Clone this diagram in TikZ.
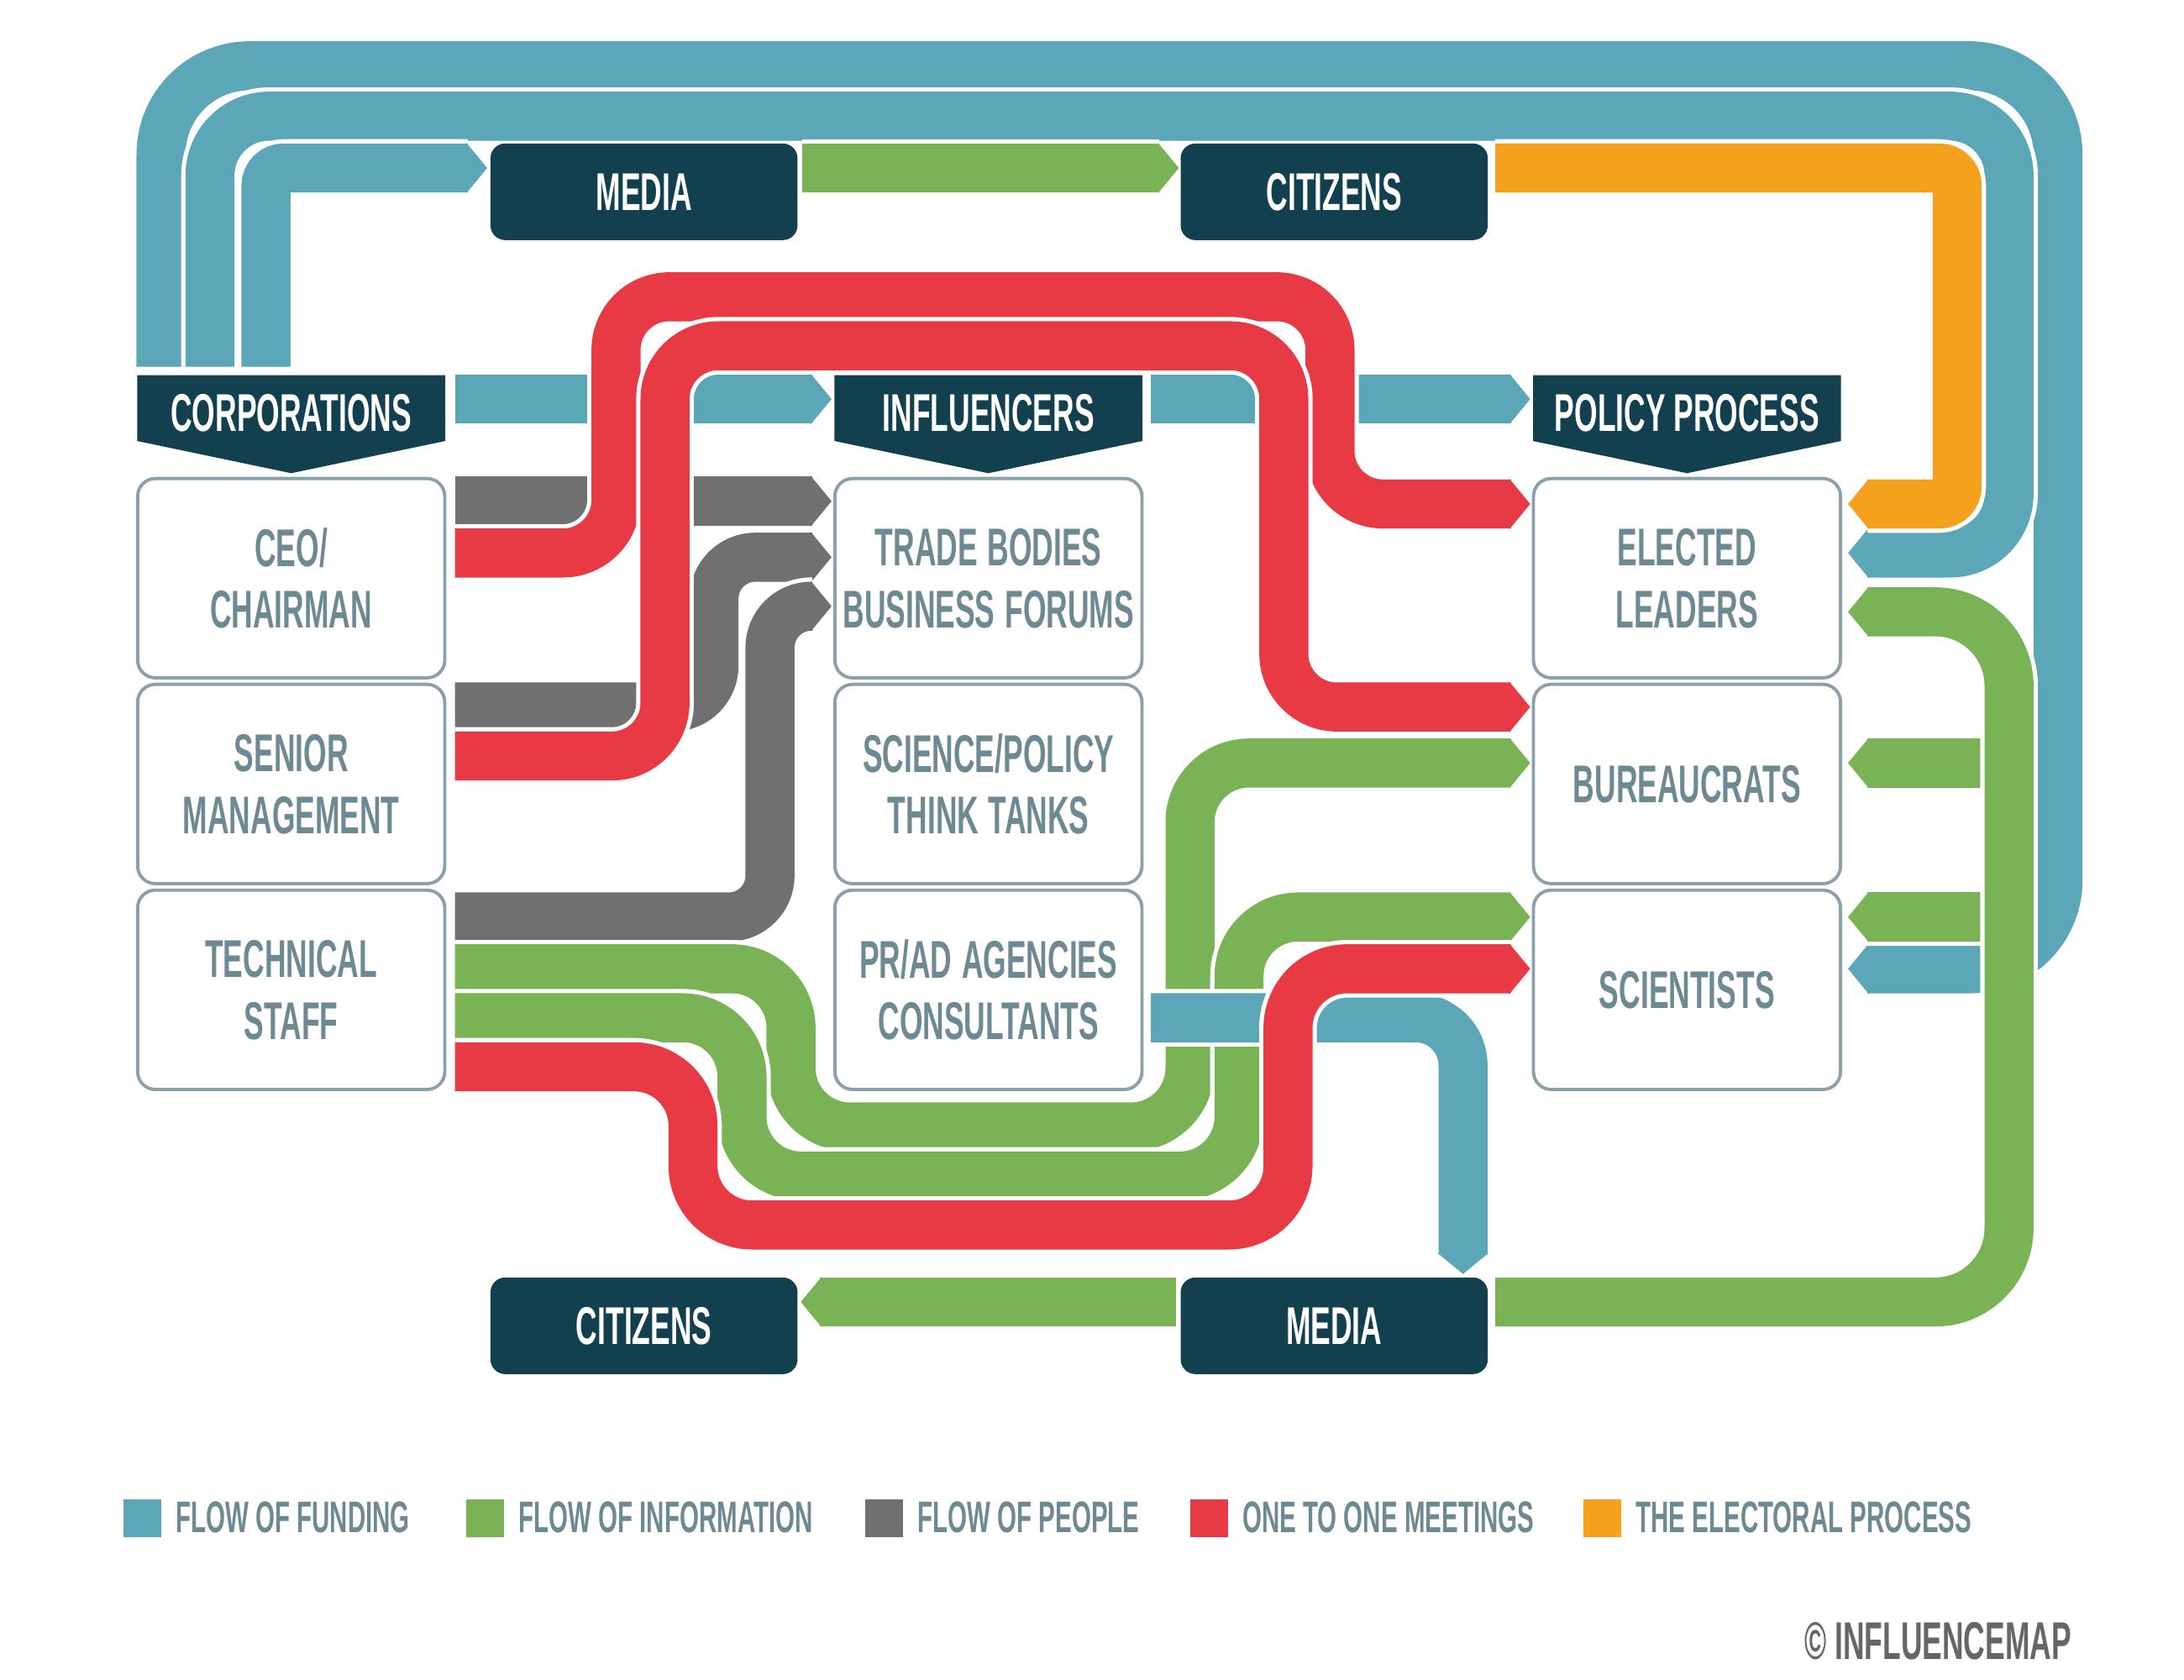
\documentclass[tikz,border=0pt]{standalone}
\usepackage{fontspec}
\setmainfont{Liberation Sans}
\usetikzlibrary{arrows.meta}
\definecolor{navy}{HTML}{12404F}
\definecolor{txt}{HTML}{6D8A93}
\definecolor{fund}{HTML}{5BA7B7}
\definecolor{info}{HTML}{7AB356}
\definecolor{people}{HTML}{707070}
\definecolor{meet}{HTML}{E83A45}
\definecolor{vote}{HTML}{F4A21E}
\newcommand{\nar}[1]{\scalebox{0.56}[1]{#1}}
\tikzset{
  band/.style={line width=16.6pt, preaction={draw=white, line width=19.5pt}},
  tip/.style={-{Triangle[width=16.6pt, length=7pt]}},
  box/.style={draw=txt!80, line width=1.1pt, rounded corners=6pt, fill=white,
    minimum width=104pt, minimum height=67.5pt, text width=100pt, inner sep=0pt,
    align=center, text=txt, font=\bfseries\fontsize{18}{21}\selectfont},
  darkbox/.style={fill=navy, rounded corners=5pt, minimum width=104pt,
    minimum height=32.7pt, text=white, font=\bfseries\fontsize{18}{21}\selectfont},
  legend/.style={anchor=west, inner sep=0pt, text=txt, font=\bfseries\fontsize{15}{18}\selectfont}
}
\begin{document}
\begin{tikzpicture}[x=0.016667cm, y=-0.016667cm]
\useasboundingbox[fill=white] (0,0) rectangle (1560,1200);

% gray: flow of people
\draw[band, people, tip] (325,358) -- (594,358);
\draw[band, people, tip, rounded corners=14pt] (325,505) -- (510,505) -- (510,398) -- (594,398);
\draw[band, people, tip, rounded corners=14pt] (325,655) -- (550,655) -- (550,433) -- (594,433);

% blue: flow of funding
\draw[band, fund, tip, rounded corners=30pt] (115,262) -- (115,47) -- (1470,47) -- (1470,692) -- (1320,692);
\draw[band, fund, tip, rounded corners=20pt] (150,262) -- (150,83) -- (1435,83) -- (1435,395) -- (1320,395);
\draw[band, fund, tip, rounded corners=6pt] (190,262) -- (190,120) -- (348,120);
\draw[band, fund, tip] (325,285) -- (594,285);
\draw[band, fund, tip] (822,285) -- (1093,285);

% orange: electoral process
\draw[band, vote, tip, rounded corners=6pt] (1068,120) -- (1398,120) -- (1398,360) -- (1320,360);

% green: flow of information
\draw[band, info, tip] (573,120) -- (842,120);
\draw[band, info, tip] (840,930) -- (572,930);
\draw[band, info, tip] (1418,545) -- (1320,545);
\draw[band, info, tip] (1418,655) -- (1320,655);
\draw[band, info, tip, rounded corners=25pt] (1068,930) -- (1435,930) -- (1435,437) -- (1320,437);
\draw[band, info, tip, rounded corners=20pt] (325,692) -- (565,692) -- (565,805) -- (850,805) -- (850,545) -- (1093,545);
\draw[band, info, tip, rounded corners=20pt] (325,727) -- (530,727) -- (530,840) -- (885,840) -- (885,655) -- (1093,655);
\draw[band, fund, tip, rounded corners=16pt] (822,727) -- (1045,727) -- (1045,910);

% red: one to one meetings
\draw[band, meet, tip, rounded corners=18pt] (325,395) -- (440,395) -- (440,212) -- (950,212) -- (950,360) -- (1093,360);
\draw[band, meet, tip, rounded corners=18pt] (325,540) -- (475,540) -- (475,247) -- (917,247) -- (917,505) -- (1093,505);
\draw[band, meet, tip, rounded corners=20pt] (325,762) -- (495,762) -- (495,875) -- (920,875) -- (920,692) -- (1093,692);

% headers
\foreach \cx/\name/\lbl in {208/corp/CORPORATIONS, 706/infl/INFLUENCERS, 1205/policy/POLICY PROCESS} {
  \fill[navy] (\cx-110,268) -- (\cx+110,268) -- (\cx+110,315) -- (\cx,338) -- (\cx-110,315) -- cycle;
  \node[text=white, font=\bfseries\fontsize{18}{21}\selectfont] (\name) at (\cx,295) {\nar{\lbl}};
}

% boxes
\node[box] (ceo) at (208,413) {\nar{CEO/}\\\nar{CHAIRMAN}};
\node[box] (senior) at (208,560) {\nar{SENIOR}\\\nar{MANAGEMENT}};
\node[box] (tech) at (208,707) {\nar{TECHNICAL}\\\nar{STAFF}};
\node[box] (trade) at (706,413) {\nar{TRADE BODIES}\\\nar{BUSINESS FORUMS}};
\node[box] (think) at (706,560) {\nar{SCIENCE/POLICY}\\\nar{THINK TANKS}};
\node[box] (pr) at (706,707) {\nar{PR/AD AGENCIES}\\\nar{CONSULTANTS}};
\node[box] (elected) at (1205,413) {\nar{ELECTED}\\\nar{LEADERS}};
\node[box] (bureau) at (1205,560) {\nar{BUREAUCRATS}};
\node[box] (sci) at (1205,707) {\nar{SCIENTISTS}};

\node[darkbox] (mediatop) at (460,137) {\nar{MEDIA}};
\node[darkbox] (citizenstop) at (953,137) {\nar{CITIZENS}};
\node[darkbox] (citizensbot) at (460,947) {\nar{CITIZENS}};
\node[darkbox] (mediabot) at (953,947) {\nar{MEDIA}};

% legend
\foreach \lx/\col/\lbl in {88/fund/FLOW OF FUNDING, 333/info/FLOW OF INFORMATION, 618/people/FLOW OF PEOPLE, 850/meet/ONE TO ONE MEETINGS, 1131/vote/THE ELECTORAL PROCESS} {
  \fill[\col] (\lx,1071) rectangle (\lx+27,1098);
  \node[legend] at (\lx+37,1084) {\nar{\lbl}};
}
\node[anchor=east, inner sep=0pt, text=black!60, font=\bfseries\fontsize{18}{21}\selectfont] (copy) at (1480,1172) {\nar{© INFLUENCEMAP}};
\end{tikzpicture}
\end{document}
